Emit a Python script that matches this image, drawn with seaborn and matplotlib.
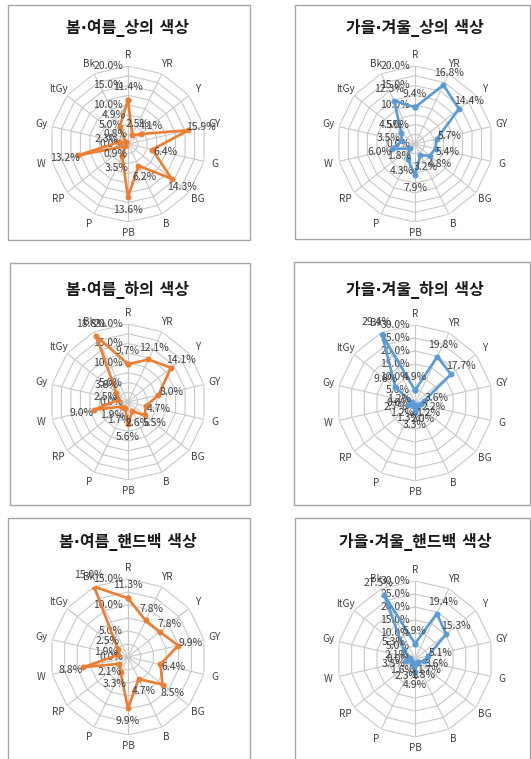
import numpy as np
import pandas as pd
import seaborn as sns
import matplotlib.pyplot as plt
from matplotlib.patches import Rectangle

# colour categories (clockwise from the top)
categories = ["R", "YR", "Y", "GY", "G", "BG", "B", "PB", "P", "RP", "W", "Gy", "ltGy", "Bk"]

# shares in %
ss_top = [11.4, 2.5, 4.1, 15.9, 6.4, 14.3, 6.2, 13.6, 3.5, 0.9, 13.2, 2.3, 0.8, 4.9]
fw_top = [9.4, 16.8, 14.4, 5.7, 5.4, 4.8, 3.2, 7.9, 4.3, 1.8, 6.0, 3.5, 4.5, 12.3]
ss_bottom = [9.7, 12.1, 14.1, 8.0, 4.7, 5.5, 2.6, 5.6, 1.7, 1.9, 9.0, 2.5, 3.8, 18.8]
fw_bottom = [4.9, 19.8, 17.7, 3.6, 2.2, 1.2, 2.0, 3.3, 1.3, 1.2, 2.7, 1.2, 9.6, 29.4]
ss_bag = [11.3, 7.8, 7.8, 9.9, 6.4, 8.5, 4.7, 9.9, 3.3, 2.1, 8.8, 1.9, 2.5, 15.0]
fw_bag = [5.9, 19.4, 15.3, 5.1, 3.6, 1.7, 1.8, 4.9, 2.3, 1.6, 3.5, 2.1, 5.3, 27.5]

titles = ["봄·여름_상의 색상", "가을·겨울_상의 색상",
          "봄·여름_하의 색상", "가을·겨울_하의 색상",
          "봄·여름_핸드백 색상", "가을·겨울_핸드백 색상"]
series = [ss_top, fw_top, ss_bottom, fw_bottom, ss_bag, fw_bag]
axis_max = [20, 20, 20, 30, 15, 30]
label_step = [5, 5, 5, 5, 5, 5]
grid_step = [2.5, 2.5, 2.5, 5, 2.5, 5]

ORANGE = "#ED7D31"
BLUE = "#5B9BD5"
colors = [ORANGE, BLUE, ORANGE, BLUE, ORANGE, BLUE]

sns.set_style("white")
plt.rcParams["font.family"] = ["Noto Sans CJK KR", "DejaVu Sans"]

W, H = 531, 759
fig = plt.figure(figsize=(W / 100, H / 100), dpi=100)

# layout in pixels
centers = [(128, 144), (415, 144), (128, 402), (415, 403), (128, 657), (415, 659)]
title_y = [28, 28, 290, 290, 542, 542]
boxes = [(8, 5, 250, 240), (295, 5, 530, 239), (10, 263, 250, 505),
         (294, 262, 530, 505), (8, 518, 250, 765), (295, 518, 530, 765)]
R_PX = 78

for x0, y0, x1, y1 in boxes:
    fig.patches.append(Rectangle((x0 / W, 1 - y1 / H), (x1 - x0) / W, (y1 - y0) / H,
                                 transform=fig.transFigure, fill=False,
                                 edgecolor="#A6A6A6", linewidth=1.0))

n = len(categories)
theta = np.arange(n) * 2 * np.pi / n
theta_closed = np.append(theta, 2 * np.pi)

for i in range(6):
    cx, cy = centers[i]
    ax = fig.add_axes([(cx - R_PX) / W, 1 - (cy + R_PX) / H, 2 * R_PX / W, 2 * R_PX / H],
                      projection="polar")
    ax.set_theta_zero_location("N")
    ax.set_theta_direction(-1)
    ax.set_ylim(0, axis_max[i])
    ax.grid(False)
    ax.spines["polar"].set_visible(False)
    ax.set_xticks([])
    ax.set_yticks([])
    ax.patch.set_alpha(0)

    # polygon grid rings and spokes
    rings = np.arange(grid_step[i], axis_max[i] + 0.01, grid_step[i])
    for lv in rings:
        ax.plot(theta_closed, [lv] * (n + 1), color="#C8C8C8", lw=0.8, zorder=1)
    for t in theta:
        ax.plot([t, t], [0, axis_max[i]], color="#C8C8C8", lw=0.8, zorder=1)

    # category labels
    for t, c in zip(theta, categories):
        ax.annotate(c, (t, axis_max[i]), xytext=(11 * np.sin(t), 11 * np.cos(t)),
                    textcoords="offset pixels", ha="center", va="center",
                    fontsize=7.2, color="#404040")

    # axis value labels along R spoke
    levels = np.arange(0, axis_max[i] + 0.01, label_step[i])
    for lv in levels:
        ax.annotate(f"{lv:.1f}%", (0, lv), xytext=(-5, 0), textcoords="offset pixels",
                    ha="right", va="center", fontsize=7.5, color="#404040")

    vals = series[i]
    df = pd.DataFrame({"theta": theta_closed, "value": vals + vals[:1]})
    sns.lineplot(data=df, x="theta", y="value", sort=False, estimator=None,
                 color=colors[i], lw=1.9, marker="o", markersize=3.5,
                 markeredgecolor=colors[i], ax=ax, zorder=3)
    ax.set_xlabel("")
    ax.set_ylabel("")

    for t, v in zip(theta, vals):
        ax.annotate(f"{v:.1f}%", (t, v), xytext=(13 * np.sin(t), 13 * np.cos(t)),
                    textcoords="offset pixels", ha="center", va="center",
                    fontsize=7.5, color="#404040", zorder=4)

    fig.text(cx / W, 1 - title_y[i] / H, titles[i], ha="center", va="center",
             fontsize=11.5, fontweight="bold", color="#1a1a1a",
             family=["DejaVu Sans", "Noto Sans CJK KR"])

fig.savefig("out.png", dpi=100)
